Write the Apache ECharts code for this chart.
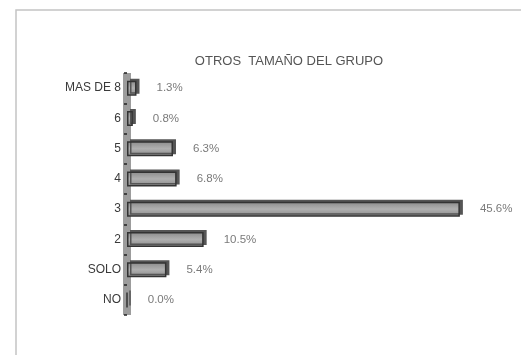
<!DOCTYPE html>
<html>
<head>
<meta charset="utf-8">
<script src="https://cdn.jsdelivr.net/npm/echarts@6/dist/echarts.min.js"></script>
<style>html,body{margin:0;padding:0;background:#fff}#c{width:521px;height:355px}</style>
</head>
<body>
<div id="c"></div>
<script>
const titleText = 'OTROS  TAMAÑO DEL GRUPO';
const categories = ['MAS DE 8', '6', '5', '4', '3', '2', 'SOLO', 'NO'];
const values = [1.3, 0.8, 6.3, 6.8, 45.6, 10.5, 5.4, 0.0];
const xMax = 50;

const chart = echarts.init(document.getElementById('c'), null, {renderer: 'canvas'});
chart.setOption({
  backgroundColor: '#ffffff',
  animation: false,
  title: {
    text: titleText,
    left: 284, top: 50,
    textAlign: 'center',
    textStyle: {fontFamily: 'Liberation Sans', fontSize: 13, fontWeight: 'normal', color: '#555'}
  },
  graphic: [{
    type: 'rect', silent: true, z: -1,
    shape: {x: 16, y: 10, width: 600, height: 400},
    style: {fill: 'none', stroke: '#c4c4c4', lineWidth: 1.5}
  }],
  grid: {left: 127, right: 29, top: 73, bottom: 40, containLabel: false},
  xAxis: {
    type: 'value', min: 0, max: xMax, show: false
  },
  yAxis: {
    type: 'category', inverse: true, data: categories,
    axisLine: {show: true, lineStyle: {color: '#9c9c9c', width: 8, cap: 'butt'}},
    axisTick: {show: true, length: 3, lineStyle: {color: '#222', width: 1.5}},
    axisLabel: {margin: 6, fontFamily: 'Liberation Sans', fontSize: 12, color: '#3a3a3a'},
    splitLine: {show: false}
  },
  series: [{
    type: 'bar',
    data: values,
    barWidth: 15,
    z: 3,
    itemStyle: {
      color: new echarts.graphic.LinearGradient(0, 0, 0, 1, [
        {offset: 0, color: '#8a8a8a'},
        {offset: 0.5, color: '#b0b0b0'},
        {offset: 1, color: '#8a8a8a'}
      ]),
      borderColor: '#333',
      borderWidth: 1.5,
      shadowColor: '#555',
      shadowOffsetX: 3,
      shadowOffsetY: -2,
      shadowBlur: 0
    },
    label: {
      show: true, position: 'right', distance: 20,
      fontFamily: 'Liberation Sans', fontSize: 11.5, color: '#7a7a7a',
      formatter: p => p.value.toFixed(1) + '%'
    }
  }]
});
</script>
</body>
</html>
